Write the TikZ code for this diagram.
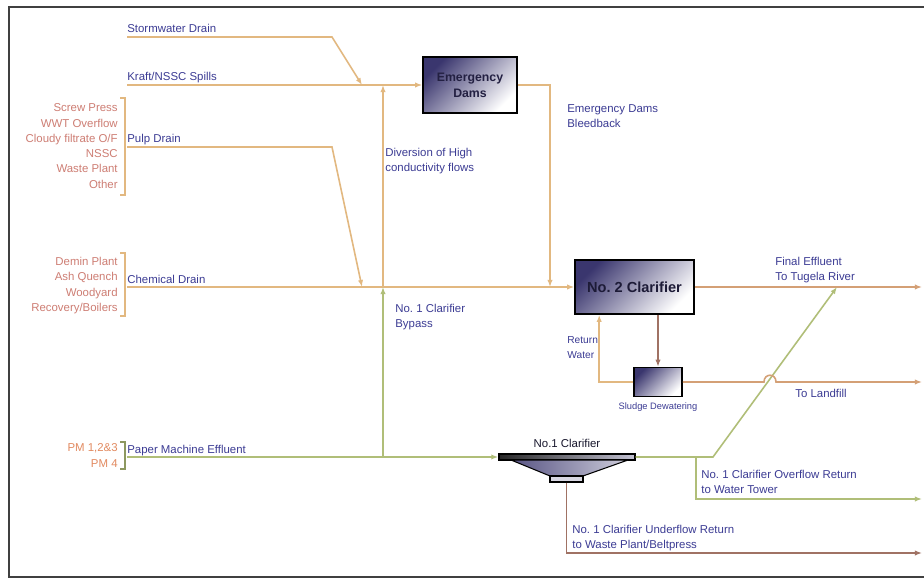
\documentclass[tikz,border=0pt]{standalone}
\usepackage{fontspec}
\setmainfont{Liberation Sans}
\usetikzlibrary{positioning,arrows.meta}

\definecolor{flow}{RGB}{226,184,128}
\definecolor{greenflow}{RGB}{176,190,120}
\definecolor{brownflow}{RGB}{160,114,100}
\definecolor{riverflow}{RGB}{212,160,118}
\definecolor{labelblue}{RGB}{60,60,148}
\definecolor{srcred}{RGB}{206,126,116}
\definecolor{pmorange}{RGB}{226,138,96}
\definecolor{boxdark}{RGB}{58,54,110}

\begin{document}
\begin{tikzpicture}[x=0.02cm, y=-0.02cm, >={Latex[length=4pt,width=3pt]},
  every node/.style={font=\fontsize{6.5}{8.5}\selectfont, inner sep=0pt},
  tank/.style={draw=black, line width=0.9pt, top color=boxdark, bottom color=white, shading angle=45},
  flowline/.style={draw=flow, line width=0.9pt},
  pmline/.style={draw=greenflow, line width=0.9pt},
  sludgeline/.style={draw=brownflow, line width=0.9pt},
  tag/.style={text=labelblue, align=left},
  srclist/.style={align=right, anchor=east, font=\fontsize{6.5}{8.7}\selectfont},
  bracketline/.style={draw=flow, line width=0.8pt}]
  \useasboundingbox (0,0) rectangle (924,581);
  \fill[white] (0,0) rectangle (924,581);
  \draw[black!75, line width=1pt] (924,7) -- (9,7) -- (9,577) -- (924,577);

  % tanks
  \node[tank, minimum width=1.88cm, minimum height=1.12cm, align=center,
        text=boxdark!60!black, font=\bfseries\fontsize{7}{9}\selectfont] (edam) at (470,85) {Emergency\\Dams};
  \node[tank, minimum width=2.38cm, minimum height=1.08cm,
        text=boxdark!50!black, font=\bfseries\fontsize{8.3}{10}\selectfont] (clar2) at (634.5,287) {No.\ 2 Clarifier};
  \node[tank, minimum width=0.96cm, minimum height=0.58cm] (dewat) at (658,382) {};
  \node[below=3pt of dewat, text=labelblue, font=\fontsize{5.3}{6}\selectfont] (dewatlbl) {Sludge Dewatering};

  % no. 1 clarifier
  \node[draw=black, line width=0.8pt, left color=black!85, right color=boxdark!30,
        minimum width=2.72cm, minimum height=0.12cm] (clar1) at (567,457) {};
  \shade[draw=black, line width=0.6pt, left color=boxdark!85, right color=boxdark!25]
    (511,460) -- (628,460) -- (583,476) -- (550,476) -- cycle;
  \node[draw=black, line width=0.8pt, fill=boxdark!20, minimum width=0.66cm, minimum height=0.12cm] (clar1b) at (566.5,479) {};
  \node[above=3pt of clar1, text=boxdark!40!black] (clar1lbl) {No.1 Clarifier};

  % sources
  \node[srclist, text=srcred] (pulpsrc) at (118,146) {Screw Press\\WWT Overflow\\Cloudy filtrate O/F\\NSSC\\Waste Plant\\Other};
  \node[srclist, text=srcred] (chemsrc) at (118,285.5) {Demin Plant\\Ash Quench\\Woodyard\\Recovery/Boilers};
  \node[srclist, text=pmorange] (pmsrc) at (118,455.5) {PM 1,2\&3\\PM 4};
  \draw[bracketline] (120,98) -- (125,98) -- (125,195) -- (120,195);
  \draw[bracketline] (120,253) -- (125,253) -- (125,316) -- (120,316);
  \draw[bracketline, draw=greenflow!80!black] (120,442) -- (125,442) -- (125,469) -- (120,469);

  % junctions and outlets
  \coordinate (stormin) at (127,37);
  \coordinate (kraftin) at (127,85);
  \coordinate (pulpin) at (127,147);
  \coordinate (chemin) at (127,287);
  \coordinate (pmin) at (127,457);
  \coordinate (jstorm) at (362,85);
  \coordinate (jdiv) at (383,85);
  \coordinate (jpulp) at (362,287);
  \coordinate (jbypass) at (383,287);
  \coordinate (jbleed) at (550,287);
  \coordinate (pmtap) at (383,457);
  \coordinate (ovtap) at (696,457);
  \coordinate (ovbend) at (713,457);
  \coordinate (jfinal) at (837,287);
  \coordinate (riverout) at (922,287);
  \coordinate (landout) at (922,382);
  \coordinate (towerout) at (922,499);
  \coordinate (beltout) at (922,553);

  % stream names
  \node[tag, anchor=base west] (stormlbl) at (127,33) {Stormwater Drain};
  \node[tag, anchor=base west] (kraftlbl) at (127,81) {Kraft/NSSC Spills};
  \node[tag, anchor=base west] (pulplbl) at (127,143) {Pulp Drain};
  \node[tag, anchor=base west] (chemlbl) at (127,283) {Chemical Drain};
  \node[tag, anchor=base west] (pmlbl) at (127,453) {Paper Machine Effluent};
  \node[tag, anchor=north west] (divlbl) at (385,148) {Diversion of High\\conductivity flows};
  \node[tag, anchor=north west] (bleedlbl) at (567,104) {Emergency Dams\\Bleedback};
  \node[tag, anchor=north west] (bypasslbl) at (395,304) {No.\ 1 Clarifier\\Bypass};
  \node[tag, anchor=north west, font=\fontsize{5.8}{8.5}\selectfont] (retlbl) at (567,336) {Return\\Water};
  \node[tag, anchor=north west] (riverlbl) at (775,257) {Final Effluent\\To Tugela River};
  \node[tag, anchor=west] (landlbl) at (795,393) {To Landfill};
  \node[tag, anchor=north west] (towerlbl) at (701,470) {No.\ 1 Clarifier Overflow Return\\to Water Tower};
  \node[tag, anchor=north west] (beltlbl) at (572,525) {No.\ 1 Clarifier Underflow Return\\to Waste Plant/Beltpress};

  % flows
  \draw[flowline, ->] (stormin) -- ++(205,0) -- (jstorm);
  \draw[flowline, ->] (kraftin) -- (edam.west);
  \draw[flowline, ->] (pulpin) -- ++(205,0) -- (jpulp);
  \draw[flowline, ->] (chemin) -- (clar2.west);
  \draw[flowline, ->] (jbypass) -- (jdiv);
  \draw[pmline, ->] (pmtap) -- (jbypass);
  \draw[flowline, ->] (edam.east) -| (jbleed);
  \draw[riverflow, line width=0.9pt, ->] (clar2.east) -- (riverout);
  \draw[sludgeline, ->] (dewat.north |- clar2.south) -- (dewat.north);
  \draw[flowline, ->] (dewat.west) -| ([xshift=0.5cm]clar2.south west);
  \draw[pmline, ->] (pmin) -- (clar1.west);
  \draw[pmline, ->] (clar1.east) -- (ovbend) -- (jfinal);
  \draw[pmline, ->] (ovtap) |- (towerout);
  \draw[riverflow, line width=0.9pt, ->] (dewat.east) -- (764,382) .. controls (764,373) and (776,373) .. (776,382) -- (landout);
  \draw[sludgeline, ->] (clar1b.south) |- (beltout);
\end{tikzpicture}
\end{document}
